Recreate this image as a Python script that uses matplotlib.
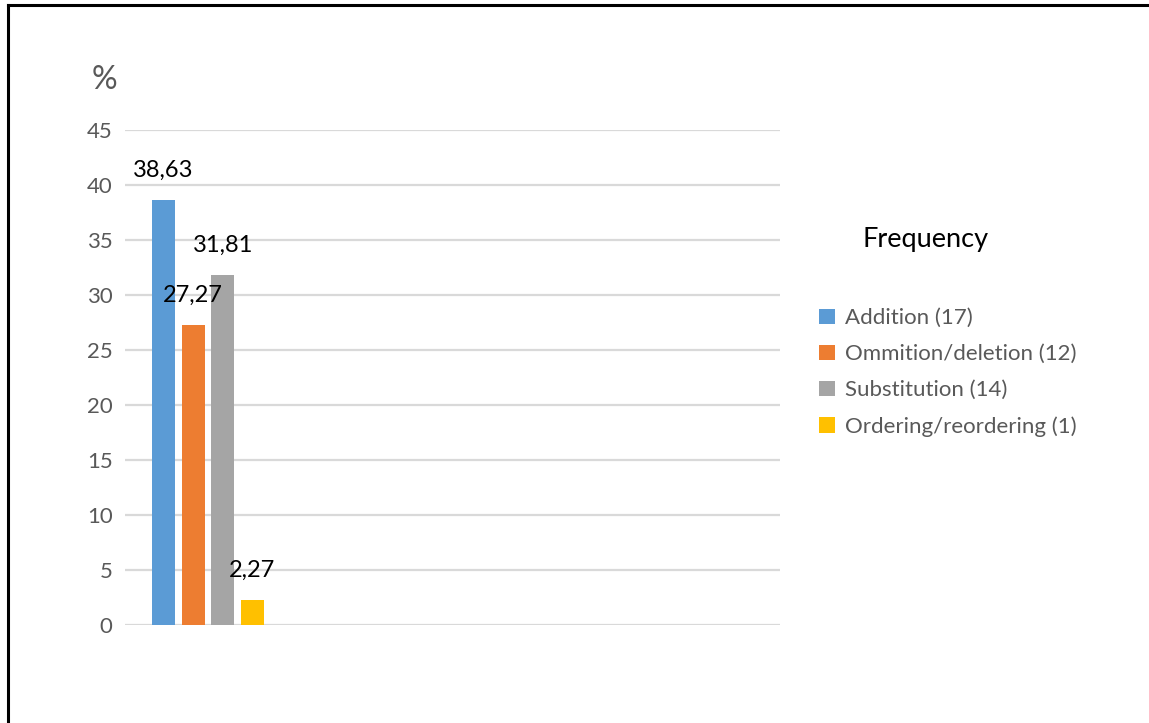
import matplotlib
matplotlib.use("Agg")
import matplotlib.pyplot as plt
from matplotlib.lines import Line2D
from matplotlib.patches import Patch

categories = ["Addition (17)", "Ommition/deletion (12)", "Substitution (14)", "Ordering/reordering (1)"]
values = [38.63, 27.27, 31.81, 2.27]
value_labels = ["38,63", "27,27", "31,81", "2,27"]
colors = ["#5B9BD5", "#ED7D31", "#A5A5A5", "#FFC000"]
yticks = [0, 5, 10, 15, 20, 25, 30, 35, 40, 45]

plt.rcParams['font.family'] = ['Lato', 'DejaVu Sans']

W, H = 1149, 723
fig = plt.figure(figsize=(W / 100, H / 100), dpi=100)
fig.patch.set_facecolor("white")

ax = fig.add_axes([125 / W, 1 - 625 / H, 655 / W, 495 / H])
x = list(range(len(values)))
bars = ax.bar(x, values, width=0.78, color=colors, zorder=3)

for xi, v, lab in zip(x, values, value_labels):
    ax.annotate(lab, (xi, v), xytext=(0, 30 * 72 / 100), textcoords="offset points",
                ha="center", va="center", fontsize=17, color="black", zorder=4)

ax.set_xlim(-1.30, 20.83)
ax.set_ylim(0, 45)
ax.set_yticks(yticks)
ax.set_yticklabels([str(t) for t in yticks])
ax.set_xticks([])
ax.yaxis.grid(True, color="#d9d9d9", linewidth=1.6, zorder=0)
for s in ax.spines.values():
    s.set_visible(False)
ax.tick_params(axis="y", length=0, pad=9, labelsize=16, labelcolor="#595959")

fig.text(104 / W, 1 - 80 / H, "%", ha="center", va="center", fontsize=23, color="#595959")
fig.text(926 / W, 1 - 240 / H, "Frequency", ha="center", va="center", fontsize=19.5, color="black")

handles = [Patch(facecolor=c, edgecolor="none") for c in colors]
leg = fig.legend(handles, categories, loc="upper left", bbox_to_anchor=(808 / W, 1 - 297 / H),
                 frameon=False, fontsize=16, labelcolor="#595959", handlelength=0.7,
                 handleheight=0.7, handletextpad=0.45, labelspacing=0.72, borderpad=0)

# outer frame
fig.add_artist(Line2D([8 / W, 1], [1 - 5 / H, 1 - 5 / H], color="black", linewidth=2.2, transform=fig.transFigure))
fig.add_artist(Line2D([8 / W, 8 / W], [0, 1 - 5 / H], color="black", linewidth=2.2, transform=fig.transFigure))

fig.savefig("out.png", dpi=100)
